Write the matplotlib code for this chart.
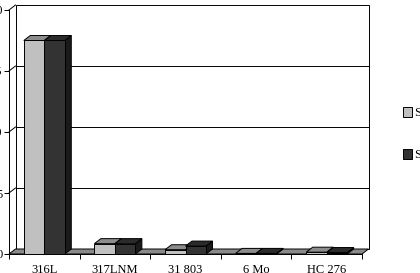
import matplotlib
matplotlib.use("Agg")
import matplotlib.pyplot as plt
from matplotlib.patches import Patch, Polygon, Rectangle

plt.rcParams["font.family"] = ["Liberation Serif", "DejaVu Serif"]

# data
alloys = ["316L", "317LNM", "31 803", "6 Mo", "HC 276"]
series1 = [17.5, 0.85, 0.35, 0.05, 0.15]
series2 = [17.5, 0.85, 0.65, 0.05, 0.12]
series_names = ["Series1", "Series2"]
y_ticks = [0, 5, 10, 15, 20]

face_colors = ["#c0c0c0", "#333333"]
top_colors = ["#8c8c8c", "#2b2b2b"]
side_colors = ["#7a7a7a", "#1a1a1a"]

W, H = 420, 273
fig = plt.figure(figsize=(W / 100, H / 100), dpi=100)
# front plane of the 3D box, in pixels: x 9..362, y 10..254
ax = fig.add_axes([9 / W, (H - 254) / H, 353 / W, 244 / H])
n = len(alloys)
ymax = y_ticks[-1]
ax.set_xlim(0, n)
ax.set_ylim(0, ymax)

# depth offset of the 3D box in data units
DX = 6.5 / (353 / n)
DY = 5 / (244 / ymax)
lw = 0.7

# back wall
ax.add_patch(Rectangle((DX, DY), n, ymax, facecolor="white", edgecolor="black",
                       lw=lw, clip_on=False, zorder=0))
for v in y_ticks[1:-1]:
    ax.plot([DX, n + DX], [v + DY, v + DY], color="black", lw=lw, clip_on=False, zorder=1)
# side wall gridlines
for v in y_ticks[1:]:
    ax.plot([0, DX], [v, v + DY], color="black", lw=lw, clip_on=False, zorder=1)

# floor
ax.add_patch(Polygon([(0, 0), (n, 0), (n + DX, DY), (DX, DY)], closed=True,
                     facecolor="#8a8a8a", edgecolor="black", lw=lw, clip_on=False, zorder=2))

bar_w = 0.29
start = 0.21
for s, vals in enumerate([series1, series2]):
    for i, h in enumerate(vals):
        x0 = i + start + s * bar_w
        x1 = x0 + bar_w
        z = 3 + s
        ax.add_patch(Polygon([(x1, 0), (x1 + DX, DY), (x1 + DX, h + DY), (x1, h)],
                             closed=True, facecolor=side_colors[s], edgecolor="black",
                             lw=lw, clip_on=False, zorder=z))
        ax.add_patch(Polygon([(x0, h), (x1, h), (x1 + DX, h + DY), (x0 + DX, h + DY)],
                             closed=True, facecolor=top_colors[s], edgecolor="black",
                             lw=lw, clip_on=False, zorder=z))
        ax.add_patch(Rectangle((x0, 0), bar_w, h, facecolor=face_colors[s],
                               edgecolor="black", lw=lw, clip_on=False, zorder=z))

for sp in ["top", "right"]:
    ax.spines[sp].set_visible(False)
ax.spines["left"].set_linewidth(lw)
ax.spines["bottom"].set_linewidth(lw)
ax.spines["left"].set_zorder(6)
ax.spines["bottom"].set_zorder(6)

ax.set_yticks(y_ticks)
ax.set_yticklabels([str(t) for t in y_ticks])
ax.tick_params(axis="y", length=3.4, width=lw, pad=1, labelsize=9)

ax.set_xticks([i + 0.5 for i in range(n)])
ax.set_xticklabels(alloys)
ax.set_xticks(range(n + 1), minor=True)
ax.tick_params(axis="x", which="major", length=0, pad=7.5, labelsize=9)
ax.tick_params(axis="x", which="minor", length=3.4, width=lw)

handles = [Patch(facecolor=face_colors[k], edgecolor="black", lw=lw) for k in range(2)]
fig.legend(handles, series_names, loc="upper left", bbox_to_anchor=(403 / W, 1 - 107 / H),
           frameon=False, fontsize=9, handlelength=0.75, handleheight=0.8,
           handletextpad=0.15, labelspacing=2.4, borderpad=0, borderaxespad=0)

fig.savefig("out.png", dpi=100)
